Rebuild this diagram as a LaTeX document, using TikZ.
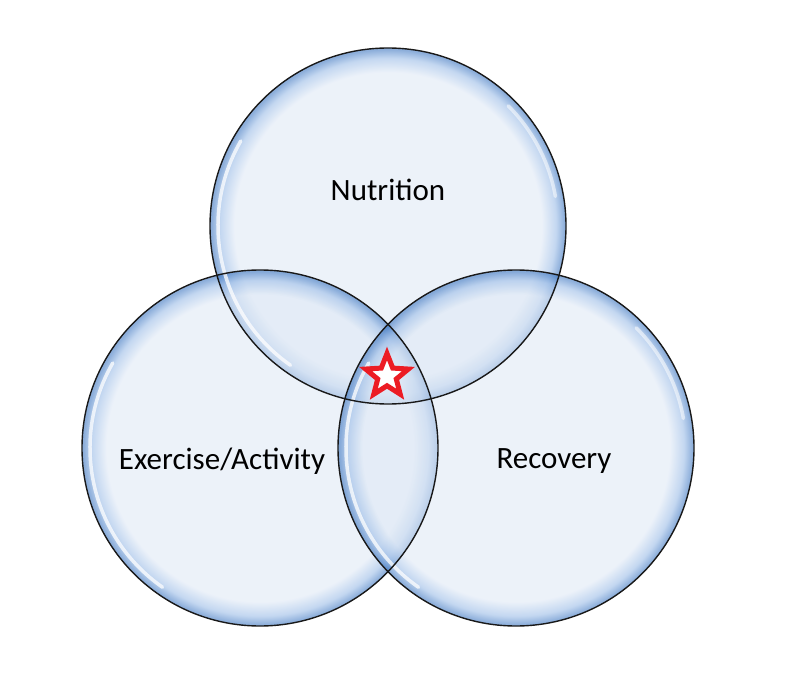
\documentclass[tikz,border=0pt]{standalone}
\usepackage{fontspec}
\setmainfont{Carlito}
\usetikzlibrary{shapes.geometric, positioning}

\definecolor{bubblein}{HTML}{DEE8F5}
\definecolor{bubblemid}{HTML}{98BAE6}
\definecolor{bubbleedge}{HTML}{3A74C0}
\definecolor{starred}{HTML}{EC1C24}
\pgfdeclareradialshading{bubble}{\pgfpoint{0bp}{0bp}}{%
  color(0bp)=(bubblein); color(21.6bp)=(bubblein); color(23.6bp)=(bubblemid);
  color(24.8bp)=(bubbleedge); color(25bp)=(bubbleedge); color(50bp)=(bubbleedge)}

\tikzset{
  ring/.style={circle, minimum size=356pt, inner sep=0pt},
  ringtext/.style={font=\fontsize{31}{36}\selectfont, text=black},
  gloss/.style={white, line width=3.5pt, opacity=0.75, line cap=round}
}

\begin{document}
\begin{tikzpicture}[x=1pt, y=-1pt]
  \useasboundingbox (0, 0) rectangle (788, 690);

  % Circles
  \node[ring] (nutrition) at (388, 226) {};
  \node[ring] (exercise) at (260, 448) {};
  \node[ring] (recovery) at (516, 448) {};

  % Bubble fills
  \shade[shading=bubble, fill opacity=0.58] (nutrition.center) circle (178);
  \shade[shading=bubble, fill opacity=0.58] (exercise.center) circle (178);
  \shade[shading=bubble, fill opacity=0.58] (recovery.center) circle (178);

  % Highlights
  \draw[gloss] ([shift={(125:170)}]nutrition.center) arc (125:210:170);
  \draw[gloss] ([shift={(125:170)}]exercise.center) arc (125:210:170);
  \draw[gloss] ([shift={(125:170)}]recovery.center) arc (125:210:170);
  \draw[gloss, opacity=0.55] ([shift={(-10:170)}]recovery.center) arc (-10:-45:170);
  \draw[gloss, opacity=0.55] ([shift={(-10:170)}]nutrition.center) arc (-10:-45:170);

  % Outlines
  \draw[black!90, line width=1.4pt] (nutrition.center) circle (178);
  \draw[black!90, line width=1.4pt] (exercise.center) circle (178);
  \draw[black!90, line width=1.4pt] (recovery.center) circle (178);

  % Labels
  \node[ringtext] (nutritionlabel) at ([yshift=36pt]nutrition.center) {Nutrition};
  \node[ringtext] (exerciselabel) at ([xshift=-38pt, yshift=-13pt]exercise.center) {Exercise/Activity};
  \node[ringtext] (recoverylabel) at ([xshift=38pt, yshift=-13pt]recovery.center) {Recovery};

  % Star
  \node[star, star points=5, star point ratio=2.3, minimum size=45pt, inner sep=0pt,
        draw=starred, line width=5pt, fill=white] (centerstar) at (387, 376) {};
\end{tikzpicture}
\end{document}
